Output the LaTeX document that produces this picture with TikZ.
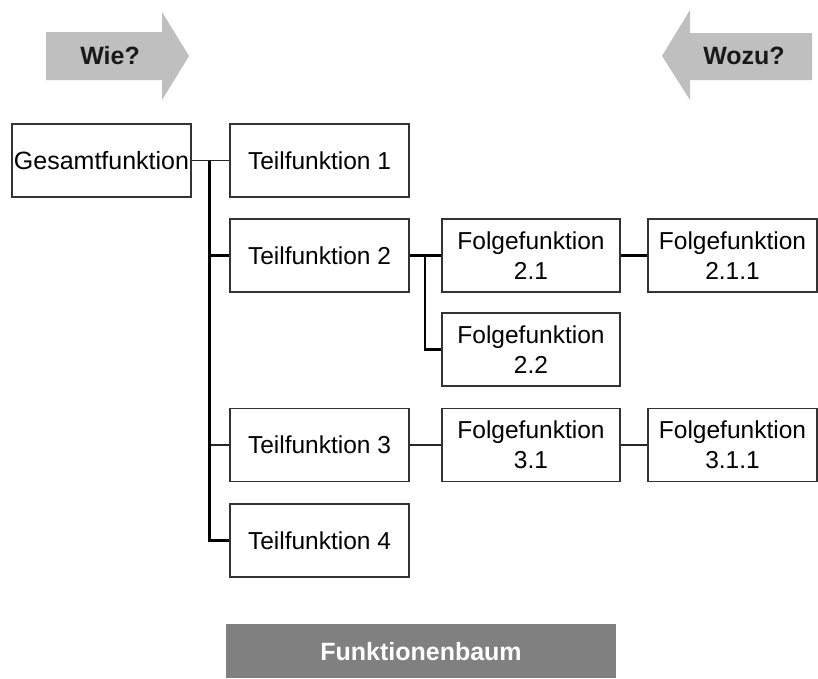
\documentclass[tikz,border=0pt]{standalone}
\usepackage{fontspec}
\setmainfont{Liberation Sans}
\begin{document}
\begin{tikzpicture}[x=1pt,y=-1pt,
  fbox/.style={draw=black!80, line width=1.1pt, fill=white, inner sep=0pt,
    minimum height=73pt, align=center, font=\fontsize{24.5}{30}\selectfont},
  wide/.style={fbox, minimum width=179pt},
  mid/.style={fbox, minimum width=178pt},
  edge/.style={fbox, minimum width=169pt},
  boldlink/.style={line width=2.3pt, black},
  thinlink/.style={line width=1.3pt, black!85},
  buslink/.style={line width=3pt, black},
  hint/.style={fill=black!25, draw=none},
  hinttext/.style={font=\fontsize{25}{29}\selectfont\bfseries, text=black!90}
]
\useasboundingbox (0,0) rectangle (818,678);
\fill[white] (0,0) rectangle (818,678);

% direction hints
\fill[hint] (46,32) -- (162,32) -- (162,12) -- (189,56) -- (162,100) -- (162,80) -- (46,80) -- cycle;
\node[hinttext] (wie) at (110,56) {Wie?};
\fill[hint] (812,33) -- (690,33) -- (690,10) -- (662,56) -- (690,100) -- (690,80) -- (812,80) -- cycle;
\node[hinttext] (wozu) at (744,56) {Wozu?};

% function boxes
\node[wide, font=\fontsize{25}{30}\selectfont] (gesamt) at (101.5,160.5) {Gesamtfunktion};
\node[wide] (t1) at (319.5,160.5) {Teilfunktion 1};
\node[wide] (t2) at (319.5,255.5) {Teilfunktion 2};
\node[wide] (t3) at (319.5,445) {Teilfunktion 3};
\node[wide] (t4) at (319.5,540.5) {Teilfunktion 4};
\node[mid] (f21) at (531,255.5) {Folgefunktion\\2.1};
\node[mid] (f22) at (531,349.5) {Folgefunktion\\2.2};
\node[mid] (f31) at (531,445) {Folgefunktion\\3.1};
\node[edge] (f211) at (732.5,255.5) {Folgefunktion\\2.1.1};
\node[edge] (f311) at (732.5,445) {Folgefunktion\\3.1.1};

% branching points
\coordinate (bus) at (209,160.5);
\coordinate (b2) at (425,255.5);

% connectors
\draw[thinlink] (gesamt.east) -- (t1.west);
\draw[boldlink] (bus |- t2.west) -- (t2.west);
\draw[thinlink] (bus |- t3.west) -- (t3.west);
\draw[boldlink] (bus) |- (t4.west);
\draw[buslink] (bus) -- (bus |- t4.west);

\draw[boldlink] (t2.east) -- (f21.west);
\draw[boldlink] (b2) |- (f22.west);
\draw[boldlink] (f21.east) -- (f211.west);

\draw[thinlink] (t3.east) -- (f31.west);
\draw[thinlink] (f31.east) -- (f311.west);

% caption bar
\fill[black!50] (226,624) rectangle (616,678);
\node[font=\fontsize{25}{29}\selectfont\bfseries, text=white] (title) at (421,652) {Funktionenbaum};
\end{tikzpicture}
\end{document}
